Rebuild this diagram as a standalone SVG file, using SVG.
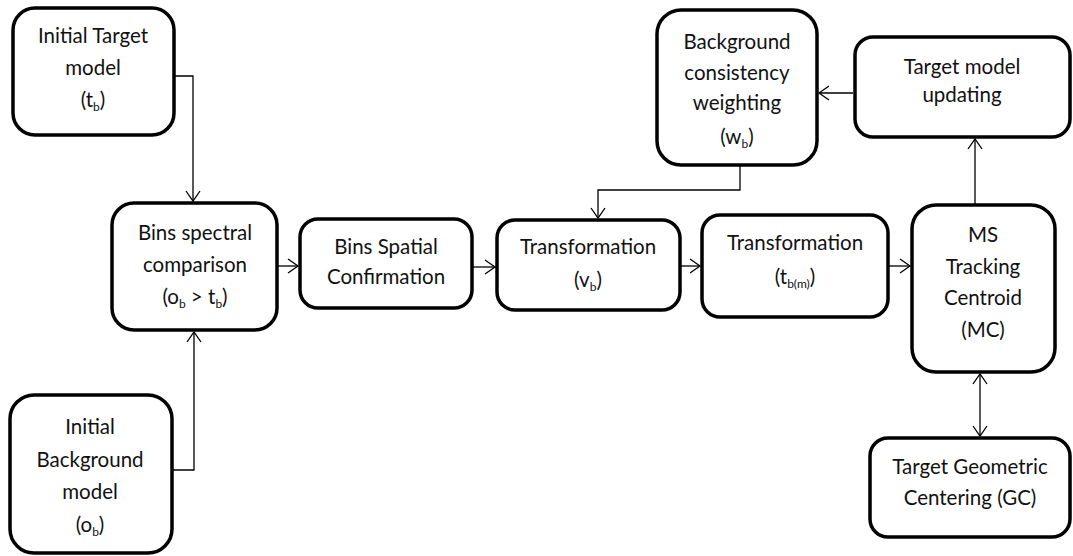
<svg xmlns="http://www.w3.org/2000/svg" width="1073" height="556" viewBox="0 0 1073 556">
<style>
.box{fill:#fff;stroke:#000;stroke-width:3.5}
.lbl{font-family:Lato,"Open Sans","Liberation Sans",sans-serif;font-size:20.5px;fill:#111;text-anchor:middle}
.sub{font-size:12px}
.con{fill:none;stroke:#000;stroke-width:1.3}
</style>
<defs>
<marker id="ah" markerUnits="userSpaceOnUse" markerWidth="14" markerHeight="16" refX="11" refY="8" orient="auto-start-reverse">
<path d="M1,1 L11,8 L1,15" fill="none" stroke="#000" stroke-width="1.3"/>
</marker>
</defs>
<g id="connectors">
<path class="con" d="M174,76 H193 V201" marker-end="url(#ah)"/>
<path class="con" d="M172,470 H194 V332" marker-end="url(#ah)"/>
<path class="con" d="M277,266 H298" marker-end="url(#ah)"/>
<path class="con" d="M472,267 H495" marker-end="url(#ah)"/>
<path class="con" d="M680,266 H700" marker-end="url(#ah)"/>
<path class="con" d="M888,266 H910" marker-end="url(#ah)"/>
<path class="con" d="M740,165 V190 H598 V218" marker-end="url(#ah)"/>
<path class="con" d="M853,93 H819" marker-end="url(#ah)"/>
<path class="con" d="M975,205 V139" marker-end="url(#ah)"/>
<path class="con" d="M980,374 V436" marker-start="url(#ah)" marker-end="url(#ah)"/>
</g>
<g id="n1"><rect class="box" x="13" y="8" width="161" height="127" rx="22"/>
<text class="lbl" x="93" y="43">Initial Target</text>
<text class="lbl" x="93" y="75">model</text>
<text class="lbl" x="93" y="107">(t<tspan class="sub" dy="4">b</tspan><tspan dy="-4">)</tspan></text></g>
<g id="n2"><rect class="box" x="112" y="203" width="165" height="127" rx="22"/>
<text class="lbl" x="195" y="240">Bins spectral</text>
<text class="lbl" x="195" y="272">comparison</text>
<text class="lbl" x="195" y="304">(o<tspan class="sub" dy="4">b</tspan><tspan dy="-4"> &gt; t</tspan><tspan class="sub" dy="4">b</tspan><tspan dy="-4">)</tspan></text></g>
<g id="n3"><rect class="box" x="300" y="219" width="172" height="89" rx="18"/>
<text class="lbl" x="386" y="254">Bins Spatial</text>
<text class="lbl" x="386" y="284">Confirmation</text></g>
<g id="n4"><rect class="box" x="497" y="220" width="183" height="90" rx="18"/>
<text class="lbl" x="588" y="254">Transformation</text>
<text class="lbl" x="588" y="287">(v<tspan class="sub" dy="4">b</tspan><tspan dy="-4">)</tspan></text></g>
<g id="n5"><rect class="box" x="702" y="215" width="186" height="102" rx="18"/>
<text class="lbl" x="795" y="250">Transformation</text>
<text class="lbl" x="795" y="284">(t<tspan class="sub" dy="4">b(m)</tspan><tspan dy="-4">)</tspan></text></g>
<g id="n6"><rect class="box" x="657" y="10" width="160" height="155" rx="24"/>
<text class="lbl" x="737" y="49">Background</text>
<text class="lbl" x="737" y="80">consistency</text>
<text class="lbl" x="737" y="110">weighting</text>
<text class="lbl" x="737" y="144">(w<tspan class="sub" dy="4">b</tspan><tspan dy="-4">)</tspan></text></g>
<g id="n7"><rect class="box" x="855" y="37" width="215" height="100" rx="18"/>
<text class="lbl" x="962" y="74">Target model</text>
<text class="lbl" x="962" y="102">updating</text></g>
<g id="n8"><rect class="box" x="912" y="205" width="143" height="167" rx="24"/>
<text class="lbl" x="983" y="242">MS</text>
<text class="lbl" x="983" y="274">Tracking</text>
<text class="lbl" x="983" y="305">Centroid</text>
<text class="lbl" x="983" y="337">(MC)</text></g>
<g id="n9"><rect class="box" x="870" y="438" width="200" height="99" rx="18"/>
<text class="lbl" x="970" y="474">Target Geometric</text>
<text class="lbl" x="970" y="505">Centering (GC)</text></g>
<g id="n10"><rect class="box" x="10" y="395" width="162" height="158" rx="24"/>
<text class="lbl" x="90" y="434">Initial</text>
<text class="lbl" x="90" y="467">Background</text>
<text class="lbl" x="90" y="499">model</text>
<text class="lbl" x="90" y="532">(o<tspan class="sub" dy="4">b</tspan><tspan dy="-4">)</tspan></text></g>
</svg>
